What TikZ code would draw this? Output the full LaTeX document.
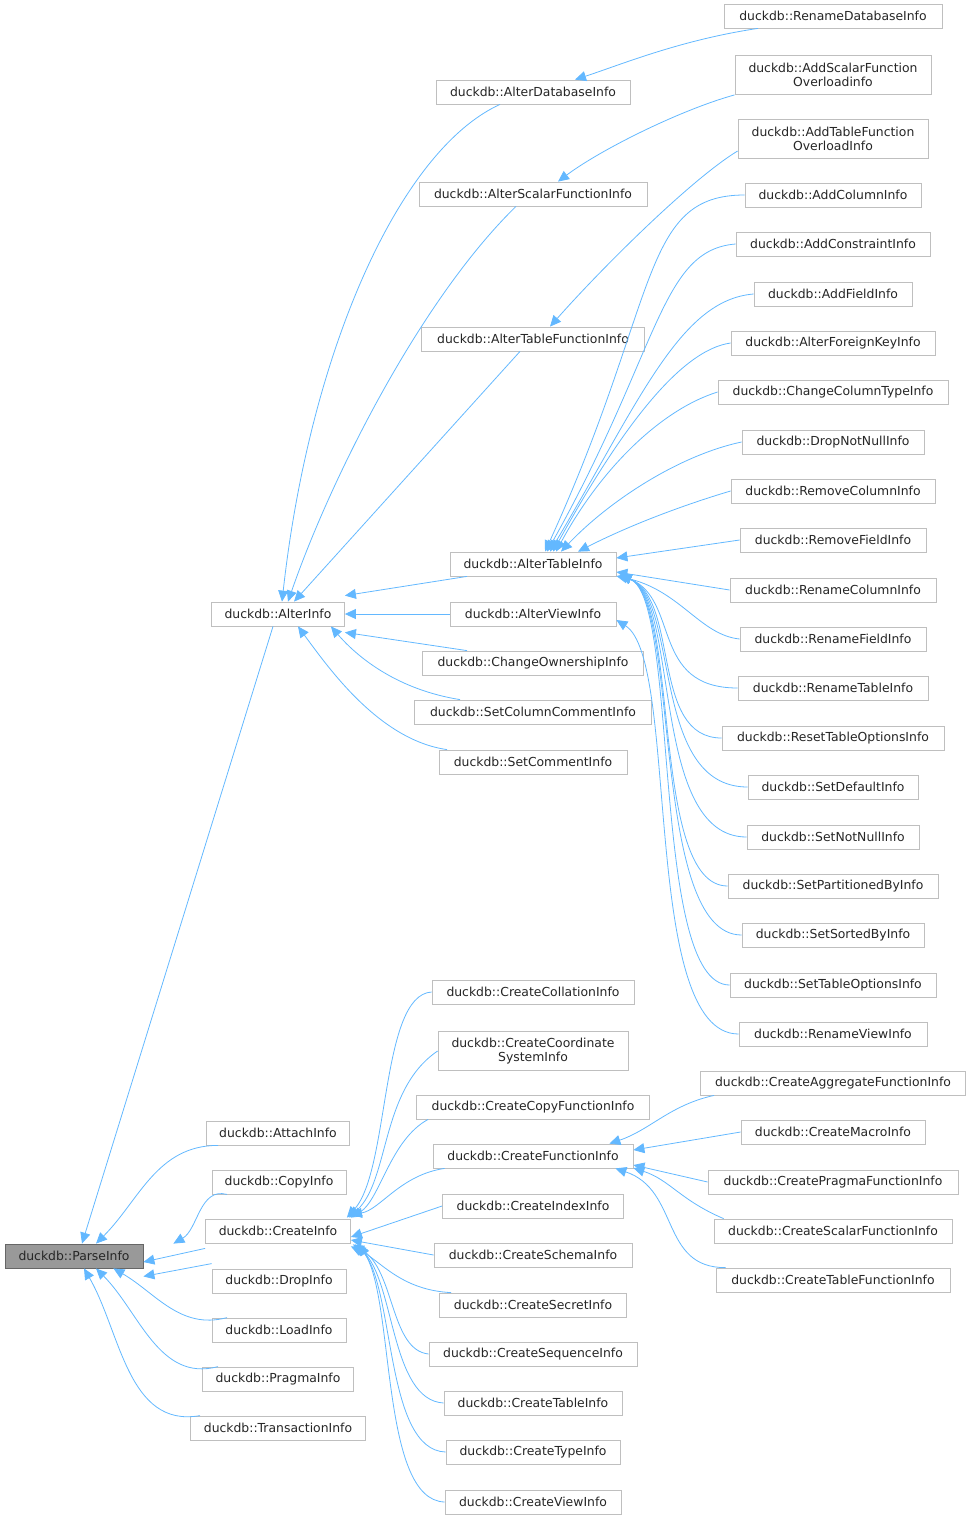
\documentclass[tikz,border=0pt]{standalone}
\usepackage{fontspec}
\setmainfont{DejaVu Sans}
\usetikzlibrary{arrows.meta}
\definecolor{eb}{HTML}{63B8FF}
\definecolor{bd}{HTML}{BFBFBF}
\begin{document}
\begin{tikzpicture}[x=1pt,y=-1pt,
  b/.style={draw=bd,fill=white,line width=0.8pt,minimum height=24pt,inner sep=0pt,font=\fontsize{12.4}{14}\selectfont,text=black!85,align=center},
  bb/.style={b,minimum height=39pt,font=\fontsize{12.4}{13.5}\selectfont},
  e/.style={draw=eb,line width=0.8pt,-{Triangle[length=11pt,width=10pt]}}]
\useasboundingbox (0,0) rectangle (972,1521);
% column 1
\node[b,minimum width=138,fill={rgb,255:red,153;green,153;blue,153},draw={rgb,255:red,102;green,102;blue,102}] (parse) at (74,1256) {duckdb::ParseInfo};
% column 2
\node[b,minimum width=133] (alter) at (278,614) {duckdb::AlterInfo};
\node[b,minimum width=143] (attach) at (278,1133) {duckdb::AttachInfo};
\node[b,minimum width=134] (copy) at (279,1182) {duckdb::CopyInfo};
\node[b,minimum width=145] (create) at (278,1231) {duckdb::CreateInfo};
\node[b,minimum width=134] (drop) at (279,1281) {duckdb::DropInfo};
\node[b,minimum width=134] (load) at (279,1330) {duckdb::LoadInfo};
\node[b,minimum width=151] (pragma) at (278,1379) {duckdb::PragmaInfo};
\node[b,minimum width=175] (trans) at (278,1428) {duckdb::TransactionInfo};
% column 3
\node[b,minimum width=194] (adb) at (533,92) {duckdb::AlterDatabaseInfo};
\node[b,minimum width=228] (asf) at (533,194) {duckdb::AlterScalarFunctionInfo};
\node[b,minimum width=223] (atf) at (533,339) {duckdb::AlterTableFunctionInfo};
\node[b,minimum width=166] (ati) at (533,564) {duckdb::AlterTableInfo};
\node[b,minimum width=166] (avi) at (533,614) {duckdb::AlterViewInfo};
\node[b,minimum width=221] (coi) at (533,663) {duckdb::ChangeOwnershipInfo};
\node[b,minimum width=237] (scc) at (533,712) {duckdb::SetColumnCommentInfo};
\node[b,minimum width=188] (sci) at (533,762) {duckdb::SetCommentInfo};
\node[b,minimum width=202] (ccol) at (533,992) {duckdb::CreateCollationInfo};
\node[bb,minimum width=190] (ccs) at (533,1051) {duckdb::CreateCoordinate\\SystemInfo};
\node[b,minimum width=233] (ccf) at (533,1107) {duckdb::CreateCopyFunctionInfo};
\node[b,minimum width=200] (cfi) at (533,1156) {duckdb::CreateFunctionInfo};
\node[b,minimum width=181] (cii) at (533,1206) {duckdb::CreateIndexInfo};
\node[b,minimum width=198] (csch) at (533,1255) {duckdb::CreateSchemaInfo};
\node[b,minimum width=187] (csec) at (533,1305) {duckdb::CreateSecretInfo};
\node[b,minimum width=208] (cseq) at (533,1354) {duckdb::CreateSequenceInfo};
\node[b,minimum width=178] (cti) at (533,1403) {duckdb::CreateTableInfo};
\node[b,minimum width=174] (cty) at (533,1452) {duckdb::CreateTypeInfo};
\node[b,minimum width=176] (cvi) at (533,1502) {duckdb::CreateViewInfo};
% column 4
\node[b,minimum width=218] (rdb) at (833,16) {duckdb::RenameDatabaseInfo};
\node[bb,minimum width=196] (asfo) at (833,75) {duckdb::AddScalarFunction\\Overloadinfo};
\node[bb,minimum width=190] (atfo) at (833,139) {duckdb::AddTableFunction\\OverloadInfo};
\node[b,minimum width=176] (aci) at (833,195) {duckdb::AddColumnInfo};
\node[b,minimum width=194] (aco) at (833,244) {duckdb::AddConstraintInfo};
\node[b,minimum width=158] (afi) at (833,294) {duckdb::AddFieldInfo};
\node[b,minimum width=204] (afk) at (833,343) {duckdb::AlterForeignKeyInfo};
\node[b,minimum width=230] (cct) at (833,392) {duckdb::ChangeColumnTypeInfo};
\node[b,minimum width=182] (dnn) at (833,442) {duckdb::DropNotNullInfo};
\node[b,minimum width=204] (rci) at (833,491) {duckdb::RemoveColumnInfo};
\node[b,minimum width=186] (rfi) at (833,540) {duckdb::RemoveFieldInfo};
\node[b,minimum width=206] (rnc) at (833,590) {duckdb::RenameColumnInfo};
\node[b,minimum width=186] (rnf) at (833,639) {duckdb::RenameFieldInfo};
\node[b,minimum width=190] (rnt) at (833,688) {duckdb::RenameTableInfo};
\node[b,minimum width=222] (rto) at (833,738) {duckdb::ResetTableOptionsInfo};
\node[b,minimum width=170] (sdi) at (833,787) {duckdb::SetDefaultInfo};
\node[b,minimum width=172] (snn) at (833,837) {duckdb::SetNotNullInfo};
\node[b,minimum width=210] (spb) at (833,886) {duckdb::SetPartitionedByInfo};
\node[b,minimum width=182] (ssb) at (833,935) {duckdb::SetSortedByInfo};
\node[b,minimum width=206] (sto) at (833,985) {duckdb::SetTableOptionsInfo};
\node[b,minimum width=188] (rvi) at (833,1034) {duckdb::RenameViewInfo};
\node[b,minimum width=265] (cagg) at (833,1083) {duckdb::CreateAggregateFunctionInfo};
\node[b,minimum width=184] (cmac) at (833,1132) {duckdb::CreateMacroInfo};
\node[b,minimum width=250] (cprag) at (833,1182) {duckdb::CreatePragmaFunctionInfo};
\node[b,minimum width=238] (cscal) at (833,1231) {duckdb::CreateScalarFunctionInfo};
\node[b,minimum width=234] (ctab) at (833,1280) {duckdb::CreateTableFunctionInfo};
% edges to ParseInfo
\draw[e] ([xshift=-5]alter.south) -- ([xshift=8]parse.north);
\draw[e] ([xshift=-60]attach.south) to[out=180,in=45] ([xshift=22]parse.north);
\draw[e] ([xshift=-52]copy.south) to[out=165,in=30] ([xshift=30]parse.north east);
\draw[e] ([yshift=-5]create.south west) -- ([yshift=-6]parse.east);
\draw[e] ([yshift=5]drop.north west) -- ([yshift=-8]parse.south east);
\draw[e] ([xshift=-52]load.north) to[out=195,in=-30] ([xshift=-30]parse.south east);
\draw[e] ([xshift=-60]pragma.north) to[out=195,in=-45] ([xshift=22]parse.south);
\draw[e] ([xshift=-78]trans.north) to[out=190,in=-60] ([xshift=10]parse.south);
% edges to AlterInfo
\draw[e] ([xshift=-33]adb.south) .. controls (400,150) and (310,350) .. ([xshift=4]alter.north);
\draw[e] ([xshift=-17]asf.south) .. controls (420,300) and (330,480) .. ([xshift=10]alter.north);
\draw[e] ([xshift=-13]atf.south) -- ([xshift=16]alter.north);
\draw[e] ([xshift=-66]ati.south) -- ([yshift=6]alter.north east);
\draw[e] (avi.west) -- (alter.east);
\draw[e] ([xshift=-66]coi.north) -- ([yshift=-6]alter.south east);
\draw[e] ([xshift=-73]scc.north) .. controls (400,690) and (360,660) .. ([xshift=-14]alter.south east);
\draw[e] ([xshift=-86]sci.north) .. controls (380,740) and (330,670) .. ([xshift=20]alter.south);
% edges col3 to col4 top
\draw[e] ([xshift=-75]rdb.south) .. controls (680,40) and (620,65) .. ([xshift=42]adb.north);
\draw[e] (asfo.south west) .. controls (680,110) and (600,150) .. ([xshift=25]asf.north);
\draw[e] ([yshift=-12]atfo.west) .. controls (690,180) and (600,270) .. ([xshift=17]atf.north);
% AlterTableInfo children
\draw[e] (aci.west) .. controls (640,195) and (660,300) .. ([xshift=12]ati.north);
\draw[e] (aco.west) .. controls (660,250) and (660,350) .. ([xshift=14]ati.north);
\draw[e] (afi.west) .. controls (680,300) and (640,400) .. ([xshift=17]ati.north);
\draw[e] (afk.west) .. controls (680,350) and (620,430) .. ([xshift=20]ati.north);
\draw[e] (cct.west) .. controls (660,410) and (600,470) .. ([xshift=23]ati.north);
\draw[e] (dnn.west) .. controls (680,455) and (610,500) .. ([xshift=28]ati.north);
\draw[e] (rci.west) .. controls (700,500) and (640,520) .. ([xshift=45]ati.north);
\draw[e] (rfi.west) -- ([yshift=6]ati.east);
\draw[e] (rnc.west) -- ([yshift=-8]ati.east);
\draw[e] (rnf.west) .. controls (700,635) and (680,590) .. ([yshift=-12]ati.east);
\foreach \n/\y in {rnt/688,rto/738,sdi/787,snn/837,spb/886,ssb/935,sto/985}{
  \draw[e] (\n.west) .. controls (650,\y) and (680,600) .. ([xshift=4,yshift=-11]ati.east);
}
\draw[e] (rvi.west) .. controls (640,1034) and (680,660) .. ([yshift=-6]avi.east);
% edges to CreateInfo
\draw[e] (ccol.west) .. controls (380,995) and (390,1170) .. ([xshift=-4,yshift=1]create.north east);
\draw[e] (ccs.west) .. controls (380,1090) and (390,1180) .. ([xshift=-2,yshift=1]create.north east);
\draw[e] ([xshift=12]ccf.south west) .. controls (390,1140) and (380,1200) .. ([xshift=0,yshift=1]create.north east);
\draw[e] ([xshift=12]cfi.south west) .. controls (400,1175) and (380,1210) .. ([yshift=4]create.north east);
\draw[e] (cii.west) -- ([yshift=-6]create.east);
\draw[e] (csch.west) -- ([yshift=-9]create.east);
\draw[e] ([xshift=12]csec.north west) .. controls (400,1290) and (380,1260) .. ([yshift=-3]create.south east);
\draw[e] (cseq.west) .. controls (390,1350) and (395,1270) .. ([xshift=2,yshift=-1]create.south east);
\draw[e] (cti.west) .. controls (390,1400) and (395,1280) .. ([xshift=4,yshift=-1]create.south east);
\draw[e] (cty.west) .. controls (385,1450) and (395,1290) .. ([xshift=6,yshift=-1]create.south east);
\draw[e] (cvi.west) .. controls (380,1500) and (395,1300) .. ([xshift=8,yshift=-1]create.south east);
% edges to CreateFunctionInfo
\draw[e] ([xshift=14]cagg.south west) .. controls (670,1105) and (650,1130) .. ([xshift=-24]cfi.north east);
\draw[e] (cmac.west) -- ([yshift=6]cfi.east);
\draw[e] (cprag.west) -- ([yshift=-9]cfi.east);
\draw[e] ([xshift=10]cscal.north west) .. controls (680,1200) and (670,1180) .. ([yshift=-12]cfi.east);
\draw[e] ([xshift=10]ctab.north west) .. controls (660,1268) and (680,1190) .. ([xshift=-18]cfi.south east);
\end{tikzpicture}
\end{document}
